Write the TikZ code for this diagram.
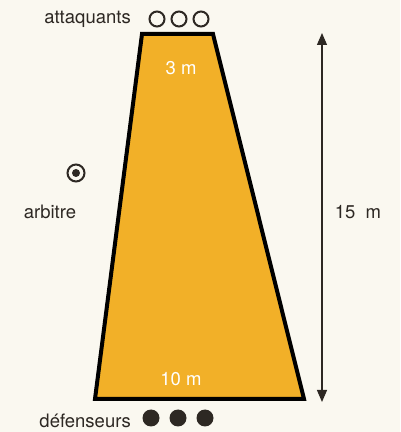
\documentclass[tikz,border=0pt]{standalone}
\usepackage{fontspec}
\setmainfont{TeX Gyre Heros}
\usetikzlibrary{arrows.meta}
\definecolor{bg}{RGB}{250,248,240}
\definecolor{field}{RGB}{242,176,40}
\definecolor{ink}{RGB}{45,40,35}
\begin{document}
\begin{tikzpicture}[x=1pt,y=1pt,
  lbl/.style={text=ink,font=\fontsize{18.5}{22}\selectfont,inner sep=0pt},
  wlbl/.style={text=white,font=\fontsize{18.5}{22}\selectfont,inner sep=0pt},
  att/.style={circle,draw=ink,line width=2pt,minimum size=15pt,inner sep=0pt},
  def/.style={circle,fill=ink,minimum size=17pt,inner sep=0pt},
  dim/.style={draw=ink,line width=1.2pt,{Triangle[width=10pt,length=12pt]}-{Triangle[width=10pt,length=12pt]}}]
\fill[bg] (0,0) rectangle (400,432);
\useasboundingbox (0,0) rectangle (400,432);
% field
\coordinate (TL) at (142,398);
\coordinate (TR) at (213,398);
\coordinate (BR) at (304,33);
\coordinate (BL) at (95,33);
\filldraw[fill=field,draw=black,line width=4pt,line join=miter] (TL) -- (TR) -- (BR) -- (BL) -- cycle;
\node[wlbl] (top) at (181,364) {3 m};
\node[wlbl] (bot) at (181,53) {10 m};
% attackers
\node[lbl,anchor=east] (attl) at (131,413) {attaquants};
\node[att] (a1) at (157,413) {};
\node[att] (a2) at (179,413) {};
\node[att] (a3) at (201,413) {};
% defenders
\node[lbl,anchor=east] (defl) at (131,11) {défenseurs};
\node[def] (d1) at (151,14) {};
\node[def] (d2) at (178,14) {};
\node[def] (d3) at (205,14) {};
% referee
\node[circle,draw=ink,line width=2pt,minimum size=17pt,inner sep=0pt] (ref) at (76,259) {};
\node[circle,fill=ink,minimum size=8pt,inner sep=0pt] (refc) at (ref.center) {};
\node[lbl] (refl) at (50,220) {arbitre};
% dimension
\coordinate (up) at (322,399);
\coordinate (dn) at (322,30);
\draw[dim] (up) -- (dn);
\node[lbl] (len) at (358,220) {15\ \ m};
\end{tikzpicture}
\end{document}
